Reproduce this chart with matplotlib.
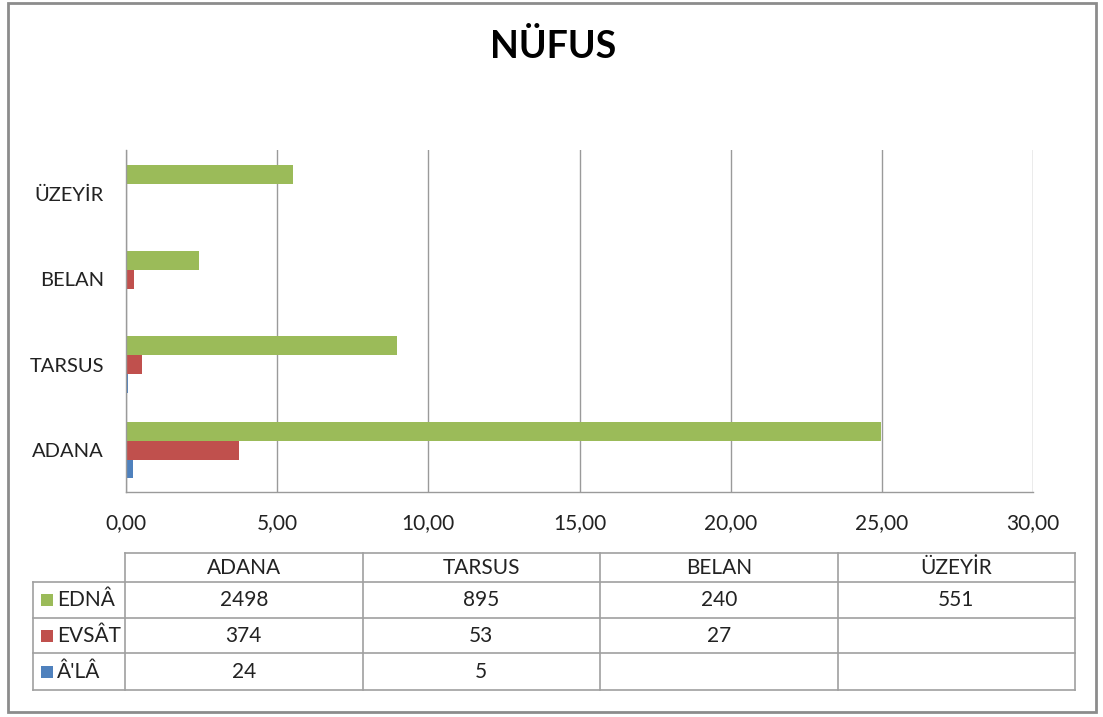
import matplotlib
matplotlib.use("Agg")
import matplotlib.pyplot as plt
from matplotlib.patches import Rectangle

plt.rcParams['font.family'] = ['Lato', 'DejaVu Sans']

title = "NÜFUS"
categories = ["ADANA", "TARSUS", "BELAN", "ÜZEYİR"]
series_names = ["EDNÂ", "EVSÂT", "Â'LÂ"]
edna = [2498, 895, 240, 551]
evsat = [374, 53, 27, None]
ala = [24, 5, None, None]
scale = 100
x_ticks = [0, 5, 10, 15, 20, 25, 30]

colors = ["#9BBB59", "#C0504D", "#4F81BD"]
series = [edna, evsat, ala]

W, H = 1103, 717
fig = plt.figure(figsize=(W / 100, H / 100), dpi=100)

def fx(px):
    return px / W

def fy(py):
    return 1 - py / H

# main bar axes
ax = fig.add_axes([fx(126), fy(492), fx(1033) - fx(126), fy(150) - fy(492)])
bh = 0.22
offsets = [bh, 0, -bh]
for vals, col, off in zip(series, colors, offsets):
    for i, v in enumerate(vals):
        if v is None:
            continue
        ax.barh(i + off, v / scale, height=bh, color=col, linewidth=0)

ax.set_xlim(0, 30)
ax.set_ylim(-0.49, 3.51)
ax.set_xticks(x_ticks)
ax.set_xticklabels([f"{t:.2f}".replace('.', ',') for t in x_ticks])
ax.set_yticks(range(len(categories)))
ax.set_yticklabels(categories)
ax.tick_params(axis='x', length=0, pad=15, labelsize=15, colors='#222222')
ax.tick_params(axis='y', length=0, pad=16, labelsize=14.5, colors='#222222')
ax.xaxis.grid(True, color='#9a9a9a', linewidth=1.0)
ax.set_axisbelow(True)
for s in ['top', 'right']:
    ax.spines[s].set_visible(False)
for s in ['left', 'bottom']:
    ax.spines[s].set_color('#9a9a9a')
    ax.spines[s].set_linewidth(1.0)

# overlay for border, title and data table
ov = fig.add_axes([0, 0, 1, 1])
ov.set_xlim(0, W)
ov.set_ylim(H, 0)
ov.axis('off')
ov.patch.set_alpha(0)

ov.add_patch(Rectangle((8, 3), 1088, 709, fill=False, edgecolor='#8c8c8c', linewidth=2.0))
ov.text(553, 46, title, ha='center', va='center', fontsize=27, fontweight='bold', color='black')

# table geometry
col_x = [125, 362.5, 600, 837.5, 1075]
label_x0 = 33
row_y = [553, 582, 618, 653, 690]
lc = '#a0a0a0'
lw = 1.2
# header row
ov.plot([col_x[0], col_x[-1]], [row_y[0], row_y[0]], color=lc, lw=lw)
for y in row_y[1:]:
    ov.plot([label_x0, col_x[-1]], [y, y], color=lc, lw=lw)
for x in col_x:
    ov.plot([x, x], [row_y[0], row_y[-1]], color=lc, lw=lw)
ov.plot([label_x0, label_x0], [row_y[1], row_y[-1]], color=lc, lw=lw)

for j, c in enumerate(categories):
    ov.text((col_x[j] + col_x[j + 1]) / 2, (row_y[0] + row_y[1]) / 2, c,
            ha='center', va='center', fontsize=15, color='#222222')

for r, (name, vals, col) in enumerate(zip(series_names, series, colors)):
    yc = (row_y[r + 1] + row_y[r + 2]) / 2
    ov.add_patch(Rectangle((41, yc - 6), 12, 12, facecolor=col, edgecolor='none'))
    ov.text(57, yc, name, ha='left', va='center', fontsize=15, color='#222222')
    for j, v in enumerate(vals):
        if v is None:
            continue
        ov.text((col_x[j] + col_x[j + 1]) / 2, yc, str(v), ha='center', va='center',
                fontsize=15, color='#222222')

fig.savefig("out.png", dpi=100)
